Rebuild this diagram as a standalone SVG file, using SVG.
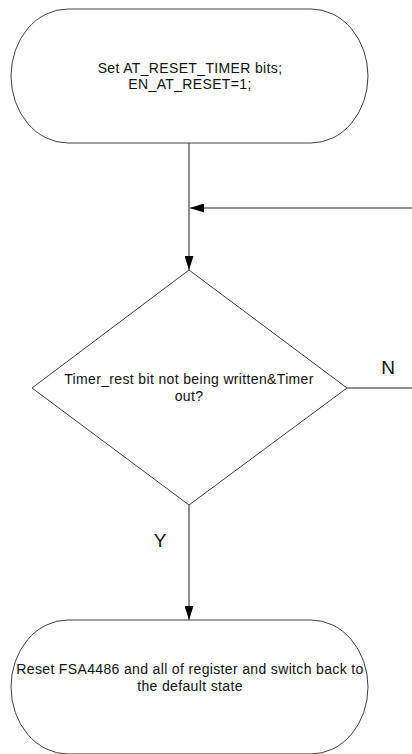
<svg xmlns="http://www.w3.org/2000/svg" width="412" height="754" viewBox="0 0 412 754">
<style>
.shape{fill:#ffffff;stroke:#404040;stroke-width:1}
.conn{fill:none;stroke:#6a6a6a;stroke-width:1.5}
.t{font-family:"Liberation Sans",Arial,sans-serif;font-size:14px;letter-spacing:0.35px;fill:#111111;text-anchor:middle}
.lbl{font-family:"Liberation Sans",Arial,sans-serif;font-size:19px;fill:#111111;text-anchor:middle}
</style>
<defs>
<marker id="arr" viewBox="0 0 14 9" refX="14" refY="4.5" markerWidth="14" markerHeight="9" markerUnits="userSpaceOnUse" orient="auto">
<path d="M0,0 L14,4.5 L0,9 Z" fill="#000000"/>
</marker>
</defs>
<rect width="412" height="754" fill="#ffffff"/>
<g id="connectors">
<path class="conn" d="M189,143 L189,270" marker-end="url(#arr)"/>
<path class="conn" d="M412,208 L190,208" marker-end="url(#arr)"/>
<path class="conn" d="M347,388 L412,388"/>
<path class="conn" d="M189,505 L189,620" marker-end="url(#arr)"/>
<text class="lbl" x="388" y="374">N</text>
<text class="lbl" x="160" y="547">Y</text>
</g>
<g id="start">
<rect class="shape" x="11" y="9" width="357" height="134" rx="57" ry="67"/>
<text class="t" x="190" y="73">Set AT_RESET_TIMER bits;</text>
<text class="t" x="190" y="89">EN_AT_RESET=1;</text>
</g>
<g id="decision">
<polygon class="shape" points="189,270 347,388 189,505 32,388"/>
<text class="t" x="189" y="384">Timer_rest bit not being written&amp;Timer</text>
<text class="t" x="189" y="401">out?</text>
</g>
<g id="reset">
<rect class="shape" x="11" y="620" width="357" height="134" rx="57" ry="67"/>
<text class="t" x="190" y="674">Reset FSA4486 and all of register and switch back to</text>
<text class="t" x="190" y="691">the default state</text>
</g>
</svg>
